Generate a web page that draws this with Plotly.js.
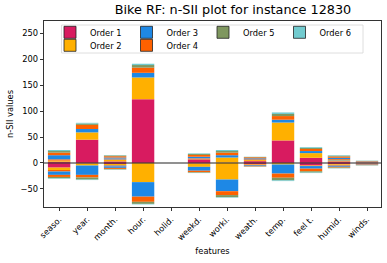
<!DOCTYPE html>
<html>
<head>
<meta charset="utf-8">
<script src="https://cdn.plot.ly/plotly-3.0.1.min.js"></script>
<style>html,body{margin:0;padding:0;background:#fff;}#chart{width:387px;height:263px;}</style>
</head>
<body>
<div id="chart"></div>
<script>
const features = ['seaso.','year.','month.','hour.','holid.','weekd.','worki.','weath.','temp.','feel t.','humid.','winds.'];
const orderNames = ['Order 1','Order 2','Order 3','Order 4','Order 5','Order 6'];
const orderColors = ['#d81b60','#ffb000','#1e88e5','#fe6100','#7f975f','#72cbcf'];

// positive contributions per order
const posOrder1 = [2.5, 45, 3, 123, 0, 7, 0.5, 3.5, 43.5, 10, 3, 1];
const posOrder2 = [2, 14, 3, 42, 0, 1, 10, 2, 34.5, 9, 2, 0.5];
const posOrder3a = [0, 0, 1, 0, 0, 0, 0, 0, 0, 0, 1, 0.3];
const posOrder4a = [2.5, 0, 1.5, 0, 0, 1, 0, 1.5, 0, 0, 1.5, 0.3];
const posOrder3 = [8, 6.5, 2, 9, 0, 3, 4.5, 2, 5.5, 4, 2.5, 0.7];
const posOrder4 = [5, 8, 2.5, 10, 0, 3.5, 5, 2, 7, 4, 2.5, 0.8];
const posOrder5 = [3, 2.5, 1.5, 5, 0, 2, 3, 0.6, 4, 2, 1.5, 0.5];
const posOrder6 = [2, 1.5, 0.5, 2.5, 0, 1, 2, 0.4, 3, 1.5, 1, 0.4];

// negative contributions per order
const negOrder1 = [-9, -1, -2, 0, 0, -1, 0, -2, 0, -5, -2.5, -1];
const negOrder2 = [-4.5, -4, -2, -37, 0, -6.5, -32, -1, -3, -1, -1.5, -0.5];
const negOrder3a = [0, 0, -1, 0, 0, 0, 0, 0, 0, 0, -1, -0.3];
const negOrder4a = [-3, 0, -1.5, 0, 0, 0, 0, -1, 0, 0, -1, -0.3];
const negOrder3 = [-6.5, -18, -3, -28, 0, -7.5, -22.5, -1.5, -17.5, -5, -1.5, -1];
const negOrder4 = [-4, -5, -2, -10, 0, -3, -7.5, -1.2, -8, -5, -1.5, -1];
const negOrder5 = [-2.5, -4, -1, -4, 0, -1, -4, -0.5, -5, -2.5, -1, -0.5];
const negOrder6 = [-1, -1, -0.5, -1, 0, -0.5, -1, -0.3, -1.5, -1, -0.5, -0.4];

const yTicks = [-50, 0, 50, 100, 150, 200, 250];

const layers = [
  [0, posOrder1, negOrder1],
  [1, posOrder2, negOrder2],
  [2, posOrder3a, negOrder3a],
  [3, posOrder4a, negOrder4a],
  [2, posOrder3, negOrder3],
  [3, posOrder4, negOrder4],
  [4, posOrder5, negOrder5],
  [5, posOrder6, negOrder6]
];

const traces = [];
layers.forEach(([k, pos, neg]) => {
  [pos, neg].forEach(vals => {
    traces.push({
      type: 'bar', x: features, y: vals, width: 0.8,
      marker: {color: orderColors[k], line: {width: 0}},
      showlegend: false, hoverinfo: 'skip'
    });
  });
});

// legend entries (row 1: Order 1,3,5,6 ; row 2: Order 2,4)
const legendOf = ['legend', 'legend2', 'legend', 'legend2', 'legend', 'legend'];
orderNames.forEach((name, k) => {
  traces.push({
    type: 'bar', x: features, y: features.map(() => null), name: name,
    marker: {color: orderColors[k], line: {color: '#222', width: 0.8}},
    legend: legendOf[k], showlegend: true, hoverinfo: 'skip'
  });
});

const font = {family: 'DejaVu Sans, sans-serif', size: 8.3, color: '#000'};
const W = 337, H = 186;
const px = v => (v - 44) / W;
const py = v => (207 - v) / H;

const layout = {
  width: 387, height: 263,
  margin: {l: 44, r: 6, t: 21, b: 56},
  paper_bgcolor: '#fff', plot_bgcolor: '#fff',
  barmode: 'relative',
  font: font,
  title: {text: 'Bike RF: n-SII plot for instance 12830', font: {family: 'DejaVu Sans, sans-serif', size: 12.8, color: '#000'}, x: 0.602, xanchor: 'center', y: 0.963, yanchor: 'middle'},
  xaxis: {
    type: 'category', range: [-0.54, 11.5],
    tickangle: -45, ticks: 'outside', ticklen: 3.5, tickwidth: 0.8, tickcolor: '#000',
    showline: true, linecolor: '#000', linewidth: 0.8, mirror: true,
    showgrid: false, zeroline: false, tickfont: font,
    title: {text: 'features', font: font, standoff: 6}
  },
  yaxis: {
    range: [-85, 274], tickvals: yTicks, ticks: 'outside', ticklen: 3.5, tickwidth: 0.8, tickcolor: '#000',
    showline: true, linecolor: '#000', linewidth: 0.8, mirror: true,
    showgrid: false, zeroline: false, tickfont: font,
    title: {text: 'n-SII values', font: font, standoff: 5}
  },
  shapes: [
    {type: 'rect', xref: 'paper', yref: 'paper', x0: px(61.5), x1: px(363), y0: py(53), y1: py(25),
     line: {color: '#d6d6d6', width: 0.8}, fillcolor: 'rgba(255,255,255,0.8)', layer: 'below'},
    {type: 'line', xref: 'paper', yref: 'y', x0: 0, x1: 1, y0: 0, y1: 0,
     line: {color: 'rgba(60,60,60,0.75)', width: 1.5}, layer: 'above'}
  ],
  legend: {orientation: 'h', x: px(50), xanchor: 'left', y: py(32.3), yanchor: 'middle',
           bgcolor: 'rgba(0,0,0,0)', borderwidth: 0, font: font, traceorder: 'normal', itemclick: false},
  legend2: {orientation: 'h', x: px(50), xanchor: 'left', y: py(45.3), yanchor: 'middle',
           bgcolor: 'rgba(0,0,0,0)', borderwidth: 0, font: font, traceorder: 'normal', itemclick: false}
};

Plotly.newPlot('chart', traces, layout, {displayModeBar: false, staticPlot: true});
</script>
</body>
</html>
